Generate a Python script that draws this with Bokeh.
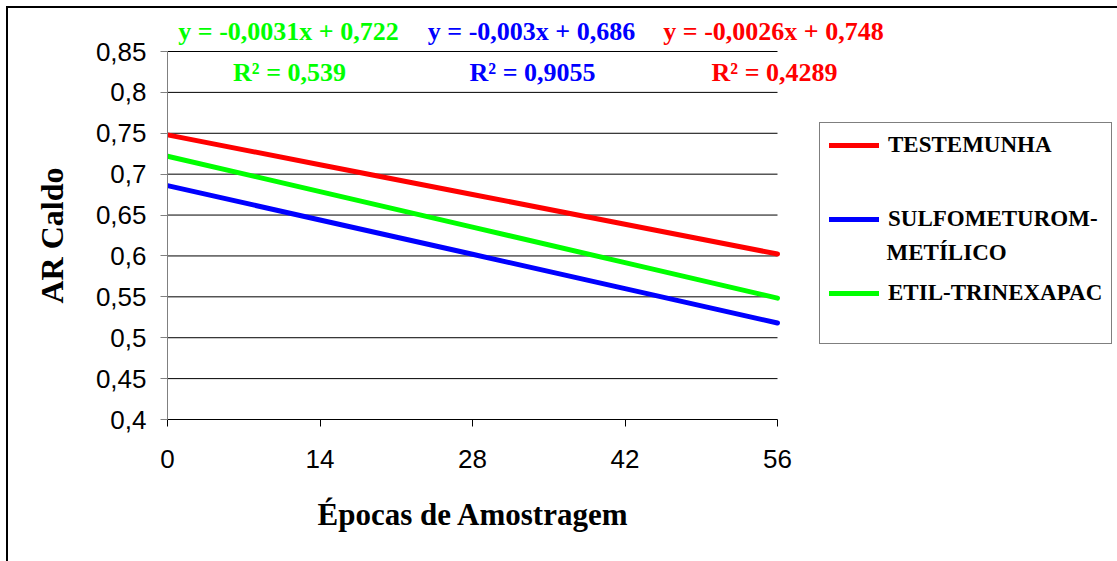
from bokeh.plotting import figure
from bokeh.models import FixedTicker, Range1d, Legend, LegendItem, Label, Title
from bokeh.embed import file_html
from bokeh.resources import INLINE

# ---- data ----
x_days = [0, 14, 28, 42, 56]
x_tick_labels = ["0", "14", "28", "42", "56"]
y_ticks = [0.4, 0.45, 0.5, 0.55, 0.6, 0.65, 0.7, 0.75, 0.8, 0.85]
y_tick_labels = ["0,4", "0,45", "0,5", "0,55", "0,6", "0,65", "0,7", "0,75", "0,8", "0,85"]

series_names = ["TESTEMUNHA", "SULFOMETUROM-", "ETIL-TRINEXAPAC"]
series_colors = ["#FF0000", "#0000FF", "#00FF00"]
testemunha = [0.748, 0.7116, 0.6752, 0.6388, 0.6024]
sulfometurom = [0.686, 0.644, 0.602, 0.560, 0.518]
etil_trinexapac = [0.722, 0.6786, 0.6352, 0.5918, 0.5484]

eq_texts = ["y = -0,0031x + 0,722", "y = -0,003x + 0,686", "y = -0,0026x + 0,748"]
r2_texts = ["R² = 0,539", "R² = 0,9055", "R² = 0,4289"]
eq_colors = ["#00FF00", "#0000FF", "#FF0000"]

x_title = "Épocas de Amostragem"
y_title = "AR Caldo"

SERIF = "Liberation Serif"
SANS = "Liberation Sans"

# ---- layout constants (pixels) ----
W, H = 1117, 561
FL, FB = 167, 419          # frame left / bottom in page pixels
PX_X = 610 / 56.0          # pixels per day
PX_Y = 368 / 0.45          # pixels per unit of AR


def dx(px):
    return (px - FL) / PX_X


def dy(py):
    return 0.4 + (FB - py) / PX_Y


p = figure(width=W, height=H, output_backend="svg", toolbar_location=None,
           x_range=Range1d(0, dx(W)), y_range=Range1d(0.4, dy(0)),
           min_border_left=FL, min_border_right=0, min_border_top=0, min_border_bottom=H - FB,
           styles={
               "background-color": "white",
               "background-image": "linear-gradient(#000, #000), linear-gradient(#000, #000)",
               "background-size": "2px 100%, 100% 2px",
               "background-position": "6px 6px, 6px 6px",
               "background-repeat": "no-repeat",
           })
p.outline_line_color = None
p.background_fill_alpha = 0
p.border_fill_alpha = 0
p.xgrid.visible = False
p.ygrid.visible = False

# axes
p.xaxis.ticker = FixedTicker(ticks=x_days)
p.xaxis.major_label_overrides = {v: s for v, s in zip(x_days, x_tick_labels)}
p.xaxis.bounds = (x_days[0], x_days[-1])
p.yaxis.ticker = FixedTicker(ticks=y_ticks)
p.yaxis.major_label_overrides = {v: s for v, s in zip(y_ticks, y_tick_labels)}
p.yaxis.bounds = (y_ticks[0], y_ticks[-1])
for ax in (p.xaxis[0], p.yaxis[0]):
    ax.major_label_text_font = SANS
    ax.major_label_text_font_size = "26px"
    ax.major_label_text_color = "black"
    ax.major_tick_in = 0
    ax.major_tick_out = 7
    ax.minor_tick_line_color = None
p.xaxis.axis_line_color = "black"
p.xaxis.major_tick_line_color = "black"
p.yaxis.axis_line_color = "#808080"
p.yaxis.major_tick_line_color = "#808080"
p.xaxis.major_label_standoff = 23
p.yaxis.major_label_standoff = 14

# axis titles (centred on the 0-56 / 0,4-0,85 part of the plot)
p.add_layout(Title(text=x_title, align="left", offset=150, standoff=49,
                   text_font=SERIF, text_font_style="bold", text_font_size="31px",
                   text_color="black"), "below")
p.add_layout(Title(text=y_title, align="left", offset=116, standoff=45,
                   text_font=SERIF, text_font_style="bold", text_font_size="32px",
                   text_color="black"), "left")

# horizontal gridlines at the y ticks (above the lowest one, which is the x axis)
grid_y = y_ticks[1:]
p.segment(x0=[x_days[0]] * len(grid_y), x1=[x_days[-1]] * len(grid_y), y0=grid_y, y1=grid_y,
          line_color="black", line_width=1)

# lines
renderers = []
for ys, c in zip([testemunha, sulfometurom, etil_trinexapac], series_colors):
    r = p.line(x_days, ys, line_color=c, line_width=5, line_cap="round")
    renderers.append(r)

legend = Legend(items=[LegendItem(label=n, renderers=[r]) for n, r in zip(series_names, renderers)],
                location=(652, FB - 344), orientation="vertical",
                padding=9, spacing=48, margin=0,
                glyph_width=50, glyph_height=26, label_height=26, label_standoff=9,
                label_text_font=SERIF, label_text_font_style="bold", label_text_font_size="23px",
                label_text_color="black",
                border_line_color="black", border_line_width=1,
                background_fill_alpha=0,
                title=" ", title_location="below", title_text_font_size="14px", title_standoff=12)
p.add_layout(legend)

p.add_layout(Label(x=dx(886), y=dy(252), text="METÍLICO", text_font=SERIF, text_font_style="bold",
                   text_font_size="23px", text_color="black", text_baseline="middle", text_align="left",
                   level="overlay"))

# trend-line equations
eq_px = [288, 531, 773]
for t, r2, c, xx in zip(eq_texts, r2_texts, eq_colors, eq_px):
    p.add_layout(Label(x=dx(xx), y=dy(31), text=t, text_font=SERIF, text_font_style="bold",
                       text_font_size="26px", text_color=c, text_align="center", text_baseline="middle"))
    p.add_layout(Label(x=dx(xx + 1), y=dy(72), text=r2, text_font=SERIF, text_font_style="bold",
                       text_font_size="26px", text_color=c, text_align="center", text_baseline="middle"))

open("out.html", "w").write(file_html(p, INLINE))
